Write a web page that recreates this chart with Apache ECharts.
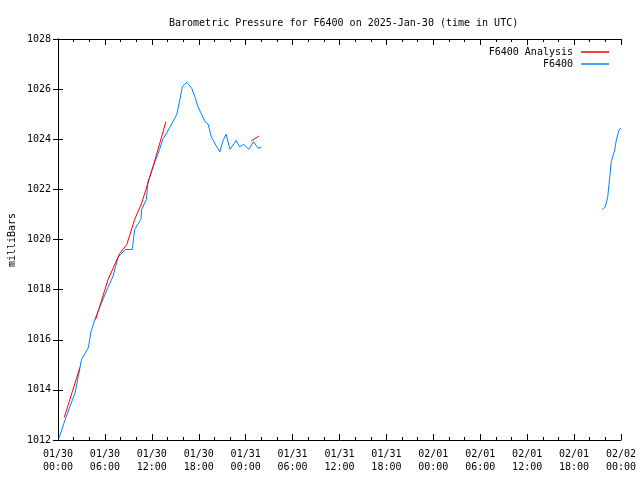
<!DOCTYPE html>
<html>
<head>
<meta charset="utf-8">
<script src="https://cdn.jsdelivr.net/npm/echarts@6/dist/echarts.min.js"></script>
<style>html,body{margin:0;padding:0;background:#fff}#c{width:640px;height:480px}</style>
</head>
<body>
<div id="c"></div>
<script>
// hours since 2025-01-30 00:00 UTC
const tickLabels = ['01/30\n00:00','01/30\n06:00','01/30\n12:00','01/30\n18:00','01/31\n00:00','01/31\n06:00','01/31\n12:00','01/31\n18:00','02/01\n00:00','02/01\n06:00','02/01\n12:00','02/01\n18:00','02/02\n00:00'];

const obsHours = [0.1,0.9,2.2,3.0,3.9,4.2,4.7,5.6,6.4,7.0,7.7,8.6,9.5,9.8,10.6,10.7,11.3,11.5,12.4,13.0,13.4,13.9,14.7,15.2,15.6,15.9,16.2,16.5,17.1,17.5,17.9,18.35,18.8,19.2,19.6,20.3,20.7,21.1,21.5,22.0,22.8,23.2,23.75,24.4,25.0,25.6,26.0,
  48,
  69.6,70.0,70.3,70.6,70.75,71.2,71.4,71.75,72.0];
const obsValues = [1012.05,1012.8,1013.9,1015.2,1015.7,1016.3,1016.8,1017.5,1018.1,1018.5,1019.3,1019.6,1019.6,1020.4,1020.8,1021.2,1021.6,1022.3,1023.1,1023.6,1024.0,1024.25,1024.7,1025.0,1025.6,1026.1,1026.2,1026.27,1026.03,1025.7,1025.3,1025.0,1024.7,1024.6,1024.1,1023.7,1023.5,1023.95,1024.2,1023.6,1023.95,1023.7,1023.8,1023.6,1023.9,1023.64,1023.68,
  null,
  1021.2,1021.3,1021.7,1022.6,1023.1,1023.57,1023.97,1024.37,1024.45];

const anaHours = [0.8,2.8, 3.8, 4.8,6.4,7.9,8.8,9.8,10.7,11.5,12.4,13.8, 19, 24.7,25.7];
const anaValues = [1012.9,1014.9, null, 1016.8,1018.4,1019.45,1019.8,1020.8,1021.45,1022.25,1023.17,1024.7, null, 1023.93,1024.13];

const pair = (xs, ys) => xs.map((x, i) => [x, ys[i]]);
const mono = 'DejaVu Sans Mono';

const chart = echarts.init(document.getElementById('c'), null, {renderer: 'canvas'});
chart.setOption({
  animation: false,
  backgroundColor: '#ffffff',
  title: {
    text: 'Barometric Pressure for F6400 on 2025-Jan-30 (time in UTC)',
    left: 164, top: 13,
    textStyle: {fontFamily: mono, fontSize: 10, fontWeight: 'normal', color: '#000'}
  },
  legend: {
    orient: 'vertical', right: 26, top: 42, align: 'right',
    icon: 'rect', itemWidth: 28, itemHeight: 1.5, itemGap: 2,
    data: ['F6400 Analysis', 'F6400'],
    textStyle: {fontFamily: mono, fontSize: 10, color: '#000', padding: [0, 3, 0, 0]}
  },
  graphic: [{
    type: 'text', x: 12, y: 240, rotation: Math.PI / 2,
    style: {text: 'milliBars', fontFamily: mono, fontSize: 10, fill: '#000', align: 'center', verticalAlign: 'middle'}
  }],
  grid: {left: 58, right: 19, top: 39, bottom: 40},
  xAxis: [{
    type: 'value', min: 0, max: 72, interval: 6,
    axisLine: {lineStyle: {color: '#000', width: 1}},
    axisTick: {inside: true, length: 6, lineStyle: {color: '#000'}},
    minorTick: {show: true, splitNumber: 3, length: 3, lineStyle: {color: '#000'}},
    splitLine: {show: false},
    axisLabel: {formatter: v => tickLabels[Math.round(v / 6)], fontFamily: mono, fontSize: 10, color: '#000', lineHeight: 13, margin: 8}
  }, {
    type: 'value', min: 0, max: 72, interval: 6, position: 'top',
    axisLine: {lineStyle: {color: '#000', width: 1}},
    axisTick: {inside: true, length: 6, lineStyle: {color: '#000'}},
    minorTick: {show: true, splitNumber: 3, length: 3, lineStyle: {color: '#000'}},
    splitLine: {show: false}, axisLabel: {show: false}
  }],
  yAxis: [{
    type: 'value', min: 1012, max: 1028, interval: 2,
    axisLine: {show: true, lineStyle: {color: '#000', width: 1}},
    axisTick: {show: true, inside: true, length: 5, lineStyle: {color: '#000'}},
    splitLine: {show: false},
    axisLabel: {formatter: v => String(v), fontFamily: mono, fontSize: 10, color: '#000', margin: 7}
  }, {
    type: 'value', min: 1012, max: 1028, interval: 2, position: 'right',
    axisLine: {show: true, lineStyle: {color: '#000', width: 1}},
    axisTick: {show: true, inside: true, length: 5, lineStyle: {color: '#000'}},
    splitLine: {show: false}, axisLabel: {show: false}
  }],
  series: [{
    name: 'F6400', type: 'line', showSymbol: false, connectNulls: false,
    data: pair(obsHours, obsValues),
    itemStyle: {color: '#0080ff'}, lineStyle: {color: '#0080ff', width: 1}
  }, {
    name: 'F6400 Analysis', type: 'line', showSymbol: false, connectNulls: false,
    data: pair(anaHours, anaValues),
    itemStyle: {color: '#ff0000'}, lineStyle: {color: '#ff0000', width: 1}
  }]
});
</script>
</body>
</html>
